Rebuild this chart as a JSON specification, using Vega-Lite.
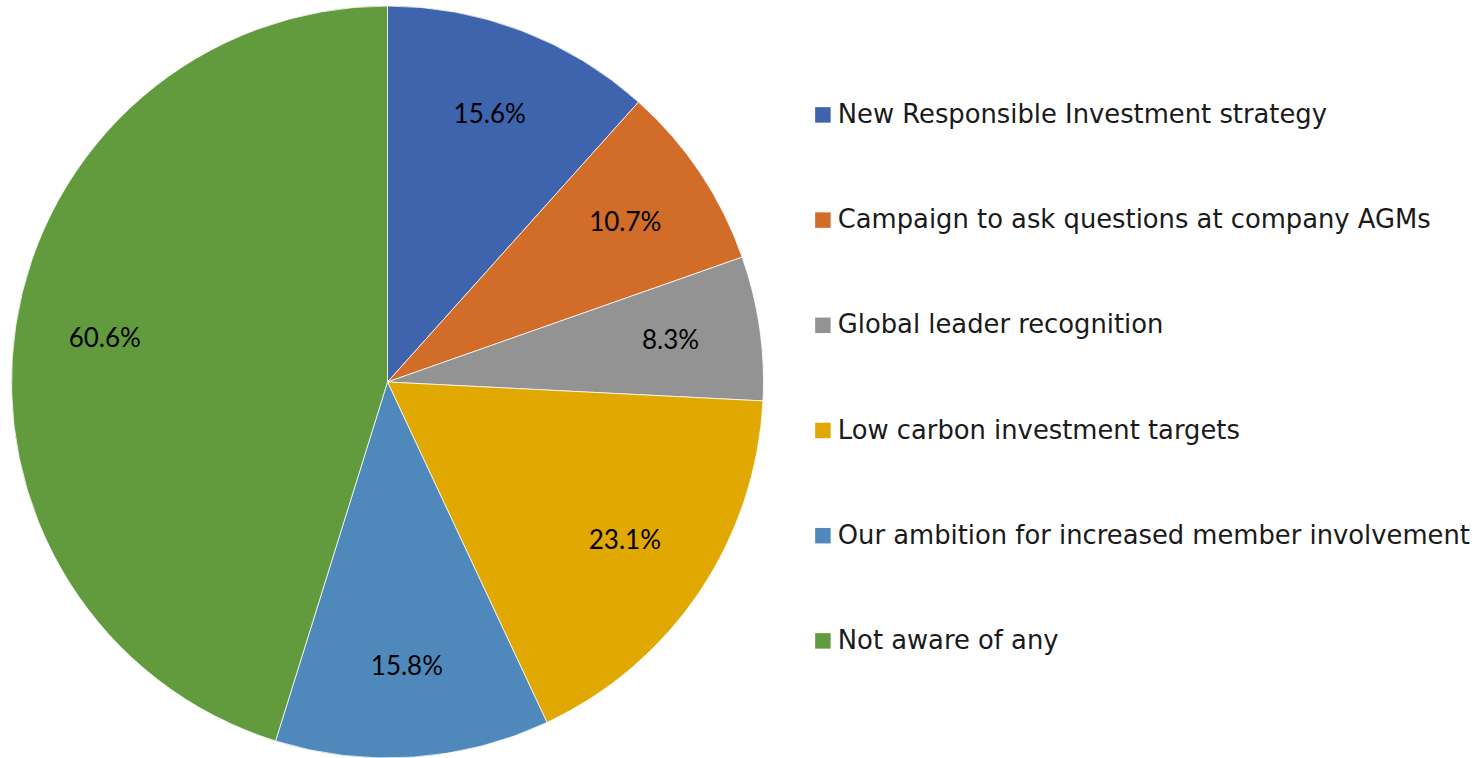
{
  "$schema": "https://vega.github.io/schema/vega-lite/v6.json",
  "width": 775,
  "height": 764,
  "autosize": {"type": "none"},
  "padding": {"left": 0, "top": 0, "right": 707, "bottom": 0},
  "background": "#ffffff",
  "view": {"stroke": null},
  "data": {
    "values": [
      {"category": "New Responsible Investment strategy", "value": 15.6, "label": "15.6%", "order": 1},
      {"category": "Campaign to ask questions at company AGMs", "value": 10.7, "label": "10.7%", "order": 2},
      {"category": "Global leader recognition", "value": 8.3, "label": "8.3%", "order": 3},
      {"category": "Low carbon investment targets", "value": 23.1, "label": "23.1%", "order": 4},
      {"category": "Our ambition for increased member involvement", "value": 15.8, "label": "15.8%", "order": 5},
      {"category": "Not aware of any", "value": 60.6, "label": "60.6%", "order": 6}
    ]
  },
  "encoding": {
    "theta": {"field": "value", "type": "quantitative", "stack": true},
    "order": {"field": "order", "type": "quantitative"},
    "color": {
      "field": "category",
      "type": "nominal",
      "sort": null,
      "scale": {
        "domain": [
          "New Responsible Investment strategy",
          "Campaign to ask questions at company AGMs",
          "Global leader recognition",
          "Low carbon investment targets",
          "Our ambition for increased member involvement",
          "Not aware of any"
        ],
        "range": ["#3D64AD", "#D26D29", "#939393", "#E0A800", "#4F89BC", "#629B3E"]
      },
      "legend": {
        "title": null,
        "orient": "none",
        "legendX": 810,
        "legendY": 102,
        "symbolType": "square",
        "symbolSize": 240,
        "symbolStrokeWidth": 0,
        "symbolOpacity": 1,
        "labelFont": "DejaVu Sans",
        "labelFontSize": 25.8,
        "labelColor": "#1a1a1a",
        "labelOffset": 2,
        "labelLimit": 800,
        "rowPadding": 78.2,
        "padding": 0
      }
    }
  },
  "layer": [
    {
      "mark": {"type": "arc", "outerRadius": 376, "stroke": "#ffffff", "strokeWidth": 0.75}
    },
    {
      "mark": {"type": "text", "radius": 286, "font": "Lato", "fontSize": 26, "color": "#000000"},
      "encoding": {
        "text": {"field": "label", "type": "nominal"},
        "color": {"value": "#000000"}
      }
    }
  ]
}
